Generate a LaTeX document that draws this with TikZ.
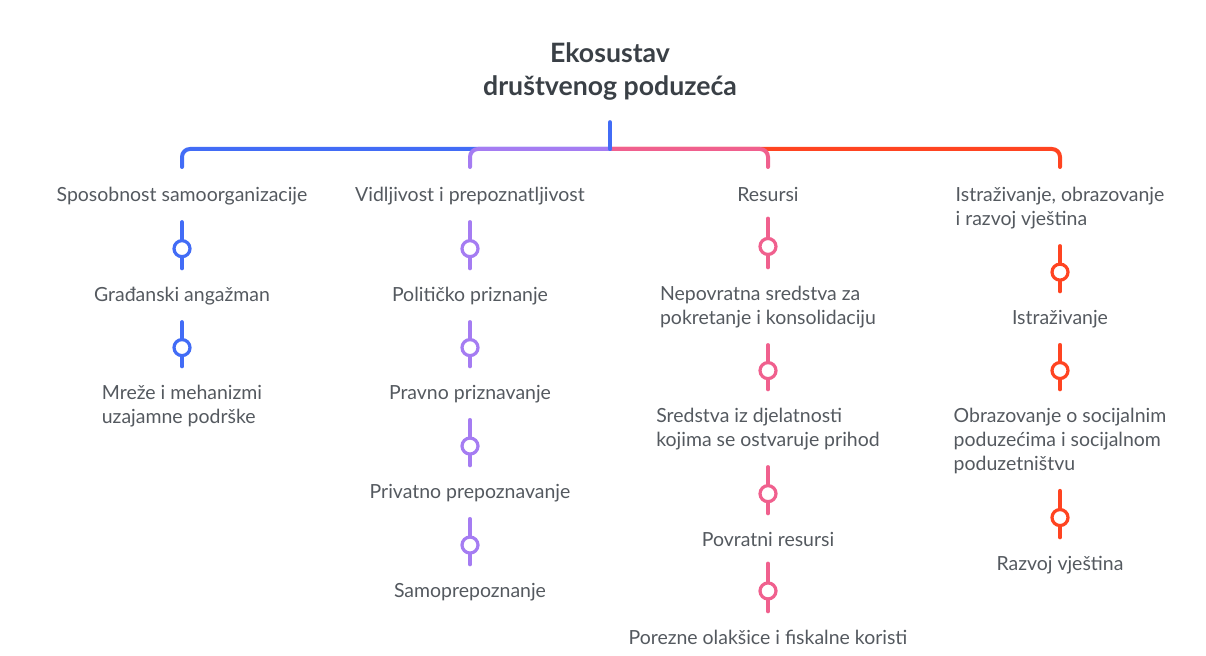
\documentclass[tikz,border=0pt]{standalone}
\usepackage{fontspec}
\setmainfont{Lato}
\usepackage{xcolor}
\definecolor{ecoblue}{RGB}{66,108,246}
\definecolor{ecopurple}{RGB}{165,124,242}
\definecolor{ecopink}{RGB}{240,96,142}
\definecolor{ecored}{RGB}{255,68,33}
\definecolor{ecotext}{RGB}{84,89,95}
\definecolor{ecotitle}{RGB}{58,64,70}

\begin{document}
\begin{tikzpicture}[x=0.75pt,y=0.75pt,yscale=-1,xscale=1,
  title/.style={anchor=north,inner sep=0pt,align=center,text=ecotitle,font=\fontsize{20}{24.75}\bfseries\selectfont},
  lbl/.style={anchor=north,inner sep=0pt,align=left,text=ecotext,font=\fontsize{14.6}{18}\selectfont},
  bar/.style={line width=3pt,line cap=round,rounded corners=6pt},
  link/.style={line width=3pt,line cap=round,shorten <=12.5pt,shorten >=14pt},
  ring/.style={circle,draw,fill=white,line width=2.4pt,minimum size=12pt,inner sep=0pt}]
\useasboundingbox (0,0) rectangle (1206,656);

% Title
\node[title] (title) at (610,42) {Ekosustav\\društvenog poduzeća};
\coordinate (hub) at (610,149);

% Text Node - headers
\node[lbl] (h1) at (182,187) {Sposobnost samoorganizacije};
\node[lbl] (h2) at (470,187) {Vidljivost i prepoznatljivost};
\node[lbl] (h3) at (768,187) {Resursi};
\node[lbl] (h4) at (1060,187) {Istraživanje, obrazovanje\\i razvoj vještina};

% Text Node - column 1
\node[lbl] (a1) at (182,287) {Građanski angažman};
\node[lbl] (a2) at (182,385) {Mreže i mehanizmi\\uzajamne podrške};
% Text Node - column 2
\node[lbl] (b1) at (470,287) {Političko priznanje};
\node[lbl] (b2) at (470,385) {Pravno priznavanje};
\node[lbl] (b3) at (470,484) {Privatno prepoznavanje};
\node[lbl] (b4) at (470,583) {Samoprepoznanje};
% Text Node - column 3
\node[lbl] (c1) at (768,286) {Nepovratna sredstva za\\pokretanje i konsolidaciju};
\node[lbl] (c2) at (768,408) {Sredstva iz djelatnosti\\kojima se ostvaruje prihod};
\node[lbl] (c3) at (768,532) {Povratni resursi};
\node[lbl] (c4) at (768,630) {Porezne olakšice i fiskalne koristi};
% Text Node - column 4
\node[lbl] (d1) at (1060,310) {Istraživanje};
\node[lbl] (d2) at (1060,408) {Obrazovanje o socijalnim\\poduzećima i socijalnom\\poduzetništvu};
\node[lbl] (d3) at (1060,556) {Razvoj vještina};

%Branch Lines
\draw[bar,ecored,shorten >=15pt] (hub) -| (h4.north);
\draw[bar,ecopink,shorten >=15pt] (hub) -| (h3.north);
\draw[bar,ecoblue,shorten >=15pt] (hub) -| (h1.north);
\draw[bar,ecopurple,shorten >=15pt] (hub) -| (h2.north);
\draw[bar,ecoblue,shorten <=16.5pt] (title.south) -- (hub);

%Straight Lines with rings
\draw[link,ecoblue] (h1.south) -- node[ring,pos=0.53]{} (a1.north);
\draw[link,ecoblue] (a1.south) -- node[ring,pos=0.53]{} (a2.north);

\draw[link,ecopurple] (h2.south) -- node[ring,pos=0.53]{} (b1.north);
\draw[link,ecopurple] (b1.south) -- node[ring,pos=0.53]{} (b2.north);
\draw[link,ecopurple] (b2.south) -- node[ring,pos=0.53]{} (b3.north);
\draw[link,ecopurple] (b3.south) -- node[ring,pos=0.53]{} (b4.north);

\draw[link,ecopink] (h3.south) -- node[ring,pos=0.53]{} (c1.north);
\draw[link,ecopink] (c1.south) -- node[ring,pos=0.53]{} (c2.north);
\draw[link,ecopink] (c2.south) -- node[ring,pos=0.53]{} (c3.north);
\draw[link,ecopink] (c3.south) -- node[ring,pos=0.53]{} (c4.north);

\draw[link,ecored] (h4.south) -- node[ring,pos=0.53]{} (d1.north);
\draw[link,ecored] (d1.south) -- node[ring,pos=0.53]{} (d2.north);
\draw[link,ecored] (d2.south) -- node[ring,pos=0.53]{} (d3.north);

\end{tikzpicture}
\end{document}
